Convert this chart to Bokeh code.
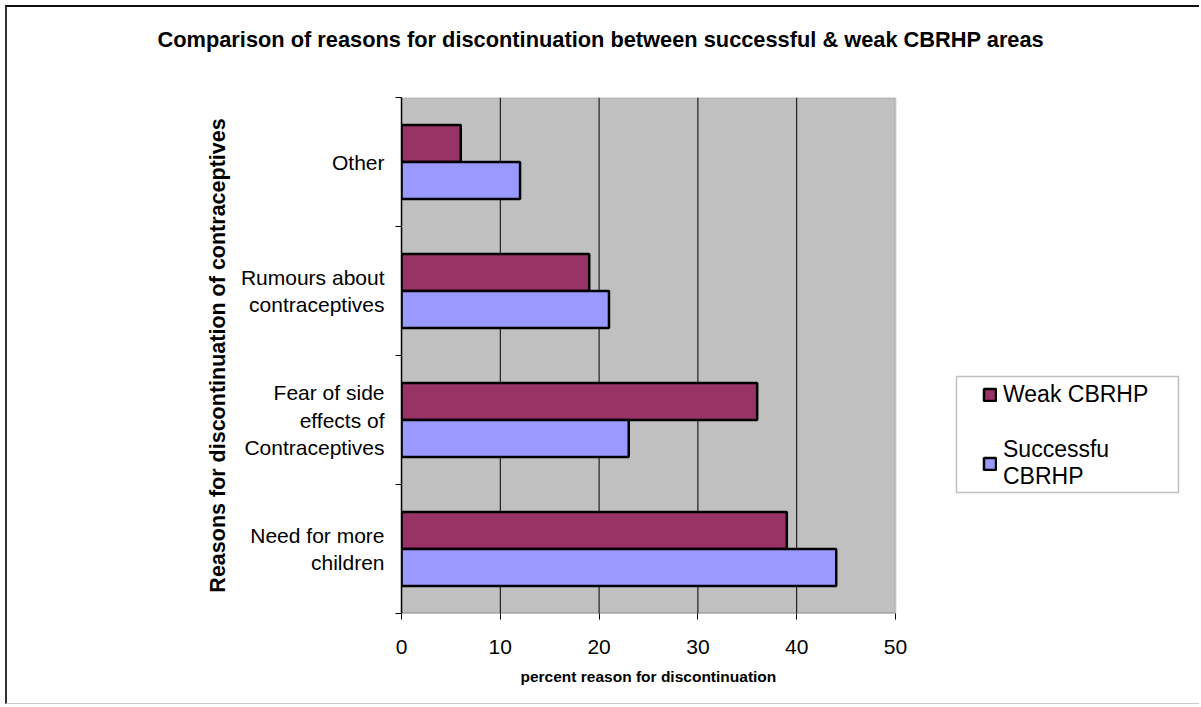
from bokeh.plotting import figure
from bokeh.models import (ColumnDataSource, FixedTicker, Range1d, Legend, LegendItem, Title,
                          BoxAnnotation, Span)
from bokeh.embed import file_html
from bokeh.resources import INLINE

# ---- data (bottom to top) ----
categories = ["Need for more\nchildren", "Fear of side\neffects of\nContraceptives",
              "Rumours about\ncontraceptives", "Other"]
weak_cbrhp = [39, 36, 19, 6]
successful_cbrhp = [44, 23, 21, 12]
x_ticks = [0, 10, 20, 30, 40, 50]

title_text = "Comparison of reasons for discontinuation between successful & weak CBRHP areas"
x_title = "percent reason for discontinuation"
y_title = "Reasons for discontinuation of contraceptives"
legend_labels = ["Weak CBRHP", "Successfu\nCBRHP"]

FONT = "Liberation Sans"
BAR_H = 0.287
WEAK_COLOR = "#993366"
SUCC_COLOR = "#9999FF"
PLOT_BG = "#C0C0C0"

# layout (page pixels): plot area spans x 401..895, y 97..613; canvas frame extends to 1190
X_MIN, X_MAX = x_ticks[0], x_ticks[-1]
frame_right_ext = X_MAX * (1190 - 401) / (895 - 401)

centers = [i + 0.5 for i in range(len(categories))]
src_weak = ColumnDataSource(dict(y=[c + BAR_H / 2 for c in centers], right=weak_cbrhp))
src_succ = ColumnDataSource(dict(y=[c - BAR_H / 2 for c in centers], right=successful_cbrhp))

p = figure(width=1194, height=699, output_backend="svg", toolbar_location=None,
           x_range=Range1d(X_MIN, frame_right_ext), y_range=Range1d(0, len(categories)),
           min_border_left=394, min_border_right=11, min_border_top=90, min_border_bottom=93)
p.margin = (5, 0, 0, 5)
p.styles = {"border-top": "2px solid #111111", "border-left": "2px solid #333333",
            "border-bottom": "1px solid #c8c8c8"}

p.background_fill_color = "white"
p.border_fill_color = "white"
p.outline_line_color = None
p.grid.visible = False

# grey plot area, its grey top/right edge, gridlines and the black x-axis line
p.add_layout(BoxAnnotation(left=X_MIN, right=X_MAX, bottom=0, top=len(categories),
                           fill_color=PLOT_BG, fill_alpha=1, line_color="#808080",
                           line_width=2, level="underlay"))
for t in x_ticks[1:-1]:
    p.add_layout(Span(location=t, dimension="height", line_color="black", line_width=1,
                      level="underlay"))
p.add_layout(BoxAnnotation(left=X_MIN, right=X_MAX, bottom=0, top=0, fill_alpha=0,
                           line_color="black", line_width=1.5, level="underlay"))

r_weak = p.hbar(y="y", left=0, right="right", height=BAR_H, source=src_weak,
                fill_color=WEAK_COLOR, line_color="black", line_width=2.5)
r_succ = p.hbar(y="y", left=0, right="right", height=BAR_H, source=src_succ,
                fill_color=SUCC_COLOR, line_color="black", line_width=2.5)

# title (plus a blank spacer between title and plot area)
p.title.text = title_text
p.title.text_font = FONT
p.title.text_font_size = "21.8px"
p.title.text_font_style = "bold"
p.title.text_color = "black"
p.title.align = "left"
p.title.offset = -244
p.title.standoff = 10
p.add_layout(Title(text=" ", text_font_size="2px", standoff=37), "above")

# x axis
xa = p.xaxis[0]
xa.ticker = FixedTicker(ticks=x_ticks)
xa.major_tick_out = 6
xa.major_tick_in = 0
xa.minor_tick_out = 0
xa.axis_line_color = None
xa.major_tick_line_color = "black"
xa.major_label_text_font = FONT
xa.major_label_text_font_size = "21px"
xa.major_label_text_color = "black"
xa.major_label_standoff = 20

# x-axis title, centred under the plot area
p.add_layout(Title(text=x_title, text_font=FONT, text_font_size="15.5px",
                   text_font_style="bold", text_color="black", align="left",
                   offset=119, standoff=18), "below")

# y axis
ya = p.yaxis[0]
ya.ticker = FixedTicker(ticks=centers, minor_ticks=list(range(len(categories) + 1)))
ya.major_label_overrides = {c: lab for c, lab in zip(centers, categories)}
ya.major_tick_out = 0
ya.major_tick_in = 0
ya.minor_tick_out = 6
ya.minor_tick_in = 0
ya.minor_tick_line_color = "black"
ya.axis_line_color = "black"
ya.axis_line_width = 1.5
ya.major_label_text_font = FONT
ya.major_label_text_font_size = "21px"
ya.major_label_text_color = "black"
ya.major_label_standoff = 11
ya.axis_label = y_title
ya.axis_label_text_font = FONT
ya.axis_label_text_font_size = "21.5px"
ya.axis_label_text_font_style = "bold"
ya.axis_label_text_color = "black"
ya.axis_label_standoff = 8

# legend box and legend
p.add_layout(BoxAnnotation(left=555, right=777, bottom=121, top=237,
                           left_units="screen", right_units="screen",
                           bottom_units="screen", top_units="screen",
                           fill_color="white", fill_alpha=1, line_color="#333333",
                           line_width=1.5))
legend = Legend(items=[LegendItem(label=legend_labels[0], renderers=[r_weak]),
                       LegendItem(label=legend_labels[1], renderers=[r_succ])],
                location=(581, 123), orientation="vertical")
legend.padding = 0
legend.margin = 0
legend.spacing = 28
legend.glyph_width = 15
legend.glyph_height = 15
legend.label_standoff = 6
legend.label_text_font = FONT
legend.label_text_font_size = "23px"
legend.label_text_color = "black"
legend.border_line_alpha = 0
legend.background_fill_alpha = 0
p.add_layout(legend)

open("out.html", "w").write(file_html(p, INLINE))
